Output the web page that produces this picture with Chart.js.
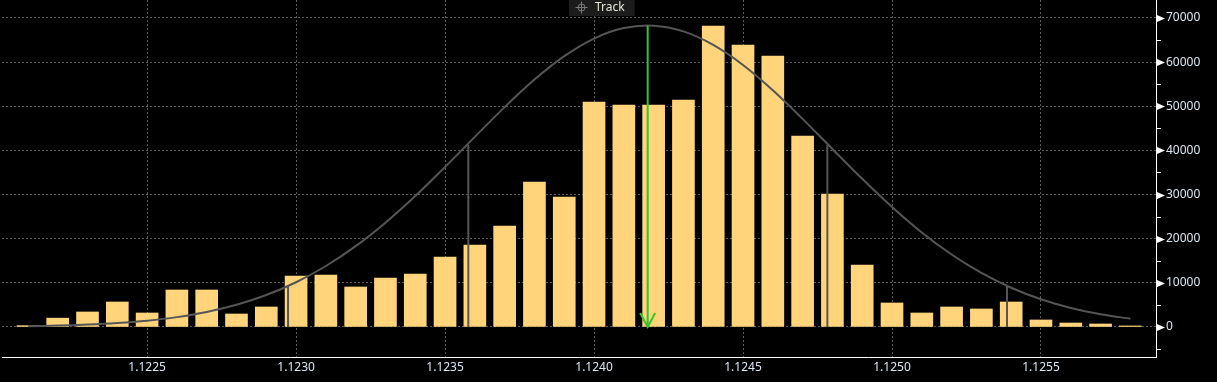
<!DOCTYPE html>
<html>
<head>
<meta charset="utf-8">
<script src="https://cdn.jsdelivr.net/npm/chart.js@4/dist/chart.umd.min.js"></script>
<style>
html,body{margin:0;padding:0;background:#000;overflow:hidden;}
canvas{display:block;}
</style>
</head>
<body>
<canvas id="c" width="1217" height="382"></canvas>
<script>
// ---- data ----
const binPrices = [1.1221,1.1222,1.1223,1.1224,1.1225,1.1226,1.1227,1.1228,1.1229,1.1230,
  1.1231,1.1232,1.1233,1.1234,1.1235,1.1236,1.1237,1.1238,1.1239,1.1240,
  1.1241,1.1242,1.1243,1.1244,1.1245,1.1246,1.1247,1.1248,1.1249,1.1250,
  1.1251,1.1252,1.1253,1.1254,1.1255,1.1256,1.1257,1.1258];
const binCounts = [300,2000,3400,5660,3170,8380,8380,2940,4530,11550,
  11780,9060,11100,12000,15850,18570,22880,32840,29450,50960,
  50280,50280,51420,68180,63870,61380,43260,30120,14040,5440,
  3170,4530,4080,5660,1590,900,680,230];
const fitCounts = [182,317,538,888,1427,2231,3393,5022,7233,10136,
  13811,18312,23632,29670,36240,43070,49804,56040,61340,65335,
  67705,68262,66970,63915,59360,53630,47150,40330,33560,27180,
  21410,16410,12240,8880,6270,4308,2879,1872];
const sigmaPrices = [1.122973,1.123578,1.124783,1.125386];
const sigmaHeights = [9290,41220,41220,9290];
const trackPrice = 1.12418;
const trackHeight = 68250;
const xTicks = [1.1225,1.1230,1.1235,1.1240,1.1245,1.1250,1.1255];
const yTicks = [0,10000,20000,30000,40000,50000,60000,70000];
const yMinorTicks = [-5000,5000,15000,25000,35000,45000,55000,65000];
const legendText = 'Track';

const FONT = '"Noto Sans", "Open Sans", sans-serif';
const LABEL = '#dbe6f2';
const GRID = '#5a5a5a';

const datasets = [];
datasets.push({
  type:'bar', label:'counts', order:10,
  data: binPrices.map((p,i)=>({x:p, y:binCounts[i]})),
  backgroundColor:'#ffd47a', borderWidth:0, barThickness:22
});
datasets.push({
  type:'line', label:'fit', order:5,
  data: binPrices.map((p,i)=>({x:p, y:fitCounts[i]})),
  borderColor:'#555555', borderWidth:2, pointRadius:0, tension:0.3, fill:false
});
sigmaPrices.forEach((p,i)=>{
  datasets.push({
    type:'line', label:'sigma'+i, order:3,
    data:[{x:p,y:0},{x:p,y:sigmaHeights[i]}],
    borderColor:'#555555', borderWidth:2, pointRadius:0, fill:false
  });
});
datasets.push({
  type:'line', label:'track', order:1,
  data:[{x:trackPrice,y:trackHeight},{x:trackPrice,y:0}],
  borderColor:'#2fc72f', borderWidth:2, pointRadius:0, fill:false
});

const overlay = {
  id:'overlay',
  afterDraw(chart){
    const ctx = chart.ctx;
    const xs = chart.scales.x, ys = chart.scales.y;
    const ax = xs.right; // y axis line position
    ctx.save();
    // arrowhead of track line
    const tx = xs.getPixelForValue(trackPrice), ty = ys.getPixelForValue(0);
    ctx.strokeStyle = '#2fc72f'; ctx.lineWidth = 2;
    ctx.beginPath();
    ctx.moveTo(tx-7.5, ty-14); ctx.lineTo(tx, ty); ctx.lineTo(tx+7.5, ty-14);
    ctx.stroke();
    // minor ticks on y axis
    ctx.strokeStyle = '#ffffff'; ctx.lineWidth = 1;
    yMinorTicks.forEach(v=>{
      const y = Math.round(ys.getPixelForValue(v))+0.5;
      ctx.beginPath(); ctx.moveTo(ax, y); ctx.lineTo(ax+5, y); ctx.stroke();
    });
    // major tick triangles
    ctx.fillStyle = '#ffffff';
    yTicks.forEach(v=>{
      const y = Math.round(ys.getPixelForValue(v))+0.5;
      ctx.beginPath(); ctx.moveTo(ax+1, y-3.5); ctx.lineTo(ax+9, y); ctx.lineTo(ax+1, y+3.5); ctx.closePath(); ctx.fill();
    });
    // Track label box
    ctx.font = '12px ' + FONT;
    const tw = ctx.measureText(legendText).width;
    const bx = 569, bw = tw + 36;
    ctx.fillStyle = '#1c1c1c';
    ctx.fillRect(bx, 0, bw, 16);
    // crosshair icon
    const cx = bx+12.5, cy = 7.5;
    ctx.strokeStyle = '#7a7a7a'; ctx.lineWidth = 1;
    ctx.beginPath(); ctx.arc(cx, cy, 3.5, 0, Math.PI*2); ctx.stroke();
    ctx.beginPath();
    ctx.moveTo(cx-6, cy); ctx.lineTo(cx+6, cy);
    ctx.moveTo(cx, cy-6); ctx.lineTo(cx, cy+6);
    ctx.stroke();
    ctx.fillStyle = '#e6e6d8';
    ctx.textBaseline = 'middle'; ctx.textAlign = 'left';
    ctx.fillText(legendText, bx+26, 8);
    ctx.restore();
  }
};

new Chart(document.getElementById('c'), {
  type:'bar',
  data:{datasets},
  options:{
    responsive:false, devicePixelRatio:1, animation:false,
    layout:{padding:{left:2, top:0, right:0, bottom:0}},
    plugins:{legend:{display:false}, tooltip:{enabled:false}},
    scales:{
      x:{
        type:'linear', min:1.122013, max:1.125886, offset:false,
        afterBuildTicks:s=>{ s.ticks = xTicks.map(v=>({value:v})); },
        afterFit:s=>{ s.height = 25; s.paddingLeft = 0; s.paddingRight = 0; s.paddingTop = 0; s.paddingBottom = 0; },
        grid:{color:GRID, lineWidth:1, drawTicks:false, offset:false, borderDash:[2,2]},
        border:{display:true, color:'#ffffff', width:1, dash:[2,2]},
        ticks:{color:LABEL, font:{family:FONT, size:12}, padding:3, maxRotation:0, autoSkip:false,
          callback:v=>Number(v).toFixed(4)}
      },
      y:{
        type:'linear', position:'right', min:-6800, max:74070,
        afterBuildTicks:s=>{ s.ticks = yTicks.map(v=>({value:v})); },
        afterFit:s=>{ s.width = 61; s.paddingTop = 0; s.paddingBottom = 0; s.paddingLeft = 0; s.paddingRight = 0; },
        grid:{color:GRID, lineWidth:1, drawTicks:false, offset:false, borderDash:[2,2]},
        border:{display:true, color:'#ffffff', width:1, dash:[2,2]},
        ticks:{color:LABEL, font:{family:FONT, size:12}, padding:10, autoSkip:false,
          callback:v=>String(v)}
      }
    }
  },
  plugins:[overlay]
});
</script>
</body>
</html>
